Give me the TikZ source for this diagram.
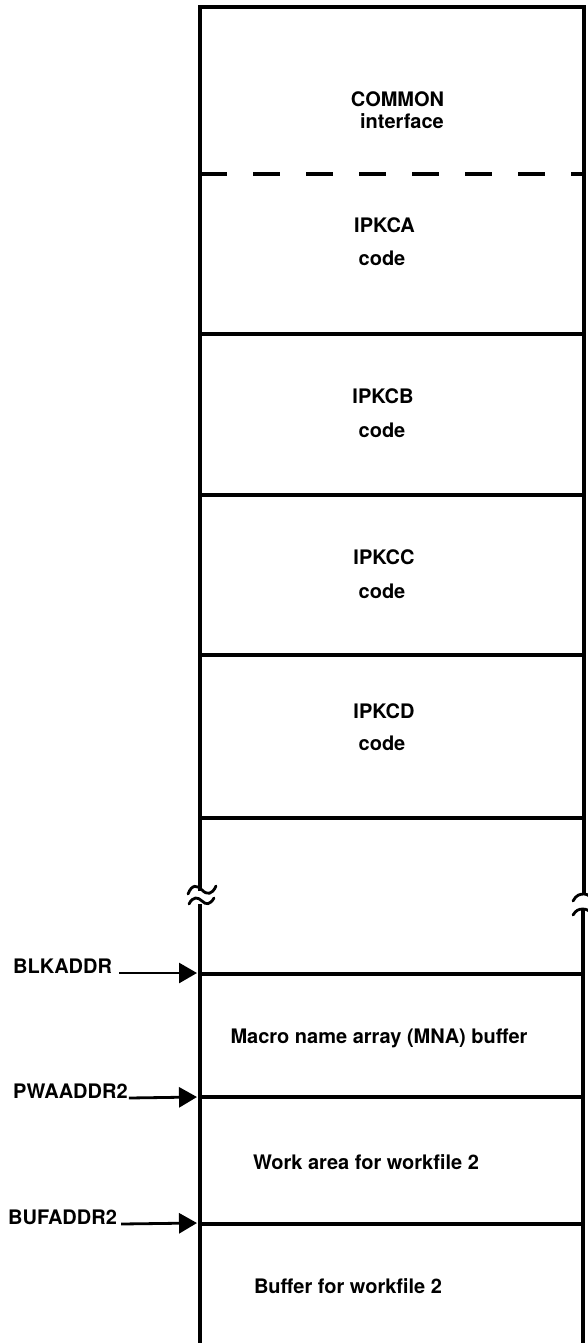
\documentclass[tikz,border=0pt]{standalone}
\usepackage{fontspec}
\setmainfont{TeX Gyre Heros}
\usetikzlibrary{arrows.meta}
\begin{document}
\begin{tikzpicture}[x=1pt,y=-1pt,
  wall/.style={line width=3.6pt, line join=miter},
  part/.style={line width=3.3pt},
  brk/.style={line width=2.8pt, line cap=round},
  txt/.style={font=\fontsize{20}{24}\selectfont\bfseries, inner sep=0pt, anchor=base},
  side/.style={txt, anchor=base west},
  ptr/.style={line width=2.8pt, -{Triangle[length=18pt,width=20pt]}},
]
\useasboundingbox (0,0) rectangle (588,1343);

% outer walls
\draw[wall] (200,891) -- (200,7) -- (584,7) -- (584,894);
\draw[wall] (200,904) -- (200,1343);
\draw[wall] (583,909) -- (583,1343);

% break marks, left
\draw[brk] (188,894) .. controls (192,884) and (197,885) .. (202,890)
           .. controls (207,895) and (212,895) .. (216,886);
\draw[brk] (189,904) .. controls (193,896) and (198,897) .. (202,901)
           .. controls (206,905) and (210,905) .. (214,898);
% break marks, right
\draw[brk] (573,901) .. controls (576,895) and (580,894) .. (584,894)
           .. controls (588,894) and (591,897) .. (593,901);
\draw[brk] (573,915) .. controls (576,910) and (579,909) .. (583,909)
           .. controls (587,909) and (590,911) .. (593,915);

% partitions
\draw[part, dash pattern=on 27pt off 26pt] (200,174) -- (584,174);
\foreach \yy in {334,495,655,818,974,1097,1224}
  \draw[part] (200,\yy) -- (584,\yy);

% block texts
\node[txt] (common) at (397.5,107) {COMMON};
\node[txt] (iface)  at (402,129) {interface};
\node[txt] (ipkca)  at (384.5,233) {IPKCA};
\node[txt] (codea)  at (382,265) {code};
\node[txt] (ipkcb)  at (383,403) {IPKCB};
\node[txt] (codeb)  at (382,437) {code};
\node[txt] (ipkcc)  at (384,564) {IPKCC};
\node[txt] (codec)  at (382,598) {code};
\node[txt] (ipkcd)  at (384,718) {IPKCD};
\node[txt] (coded)  at (382,750) {code};
\node[txt] (mna)    at (379,1043) {Macro name array (MNA) buffer};
\node[txt] (work)   at (366,1169) {Work area for workfile 2};
\node[txt] (buf)    at (348,1293) {Buffer for workfile 2};

% pointer labels
\node[side] (blk) at (13,973) {BLKADDR};
\node[side] (pwa) at (13,1098) {PWAADDR2};
\node[side] (bfa) at (8,1224) {BUFADDR2};

\coordinate (tblk) at (197,973);
\coordinate (tpwa) at (197,1097);
\coordinate (tbfa) at (197,1223);

\draw[ptr] ([xshift=7pt]blk.base east) -- (tblk);
\draw[ptr] ([xshift=1pt]pwa.base east) -- (tpwa);
\draw[ptr] ([xshift=4pt]bfa.base east) -- (tbfa);
\end{tikzpicture}
\end{document}
